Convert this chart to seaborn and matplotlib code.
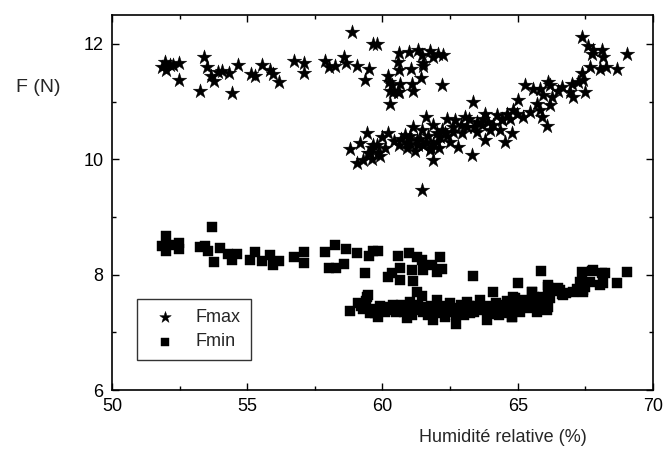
import matplotlib
matplotlib.use('Agg')
import matplotlib.pyplot as plt
from matplotlib.ticker import MultipleLocator
import pandas as pd
import seaborn as sns

# -- Data (humidity %, force N) ------------------------------
fmax_x = [51.84, 51.96, 52.00, 52.14, 52.27, 52.49, 52.49, 53.25, 53.41, 53.50,
          53.66, 53.77, 53.93, 54.05, 54.33, 54.42, 54.65, 55.14, 55.29, 55.53,
          55.84, 55.94, 56.17, 56.73, 57.10, 57.11, 57.87, 58.03, 58.24, 58.58,
          58.65, 58.86, 59.07, 59.35, 59.49, 59.66, 59.81,
          60.21, 60.25, 60.28, 60.40, 60.58, 60.65, 60.34, 60.28, 60.62, 60.99,
          61.30, 61.45, 61.76, 61.88, 62.06, 62.23, 60.58, 60.62, 61.05, 61.49,
          61.51, 61.08, 61.42, 61.12, 62.19, 60.62, 63.36,
          61.60, 62.40, 62.68, 63.05, 63.79, 64.22, 64.59, 59.42, 59.17, 58.80,
          59.05, 59.29, 59.54, 59.84, 59.97, 60.21, 60.43, 60.83, 61.14, 61.02,
          61.45, 61.51, 61.88, 61.88, 61.76, 62.13, 62.31, 62.50, 62.80, 62.93,
          63.11, 63.30, 63.48, 63.79, 63.97, 64.34, 64.53, 61.45, 59.66, 60.89,
          61.26, 61.88, 62.00, 62.62, 63.48, 63.67,
          60.60, 60.70, 60.90, 61.00, 61.20, 61.30, 61.40, 61.60, 61.70, 61.80,
          62.00, 62.10, 62.20, 62.40, 62.60, 62.90, 63.20, 63.40, 63.70, 63.90,
          64.10, 64.40, 64.70, 59.60, 59.80, 59.90, 60.10, 59.45, 59.60,
          67.36, 67.61, 67.79, 67.73, 68.10, 68.16, 69.03, 67.67, 68.04, 68.26,
          68.66, 67.36, 67.42, 67.24, 66.99, 66.93, 67.05, 67.49, 66.62, 66.50,
          66.19, 66.13, 65.82, 65.55, 65.27, 65.94, 66.26, 66.19, 65.02, 65.70,
          65.82, 65.45, 65.89, 66.07, 64.78, 64.96, 65.21, 64.83, 64.41]
fmax_y = [11.60, 11.69, 11.54, 11.63, 11.64, 11.67, 11.38, 11.18, 11.78, 11.60,
          11.45, 11.36, 11.51, 11.53, 11.50, 11.15, 11.64, 11.48, 11.44, 11.64,
          11.54, 11.47, 11.34, 11.70, 11.67, 11.49, 11.70, 11.59, 11.62, 11.78,
          11.67, 12.20, 11.62, 11.37, 11.57, 12.00, 11.99,
          11.45, 11.34, 11.19, 11.17, 11.17, 11.31, 11.28, 10.96, 11.84, 11.85,
          11.89, 11.80, 11.88, 11.77, 11.82, 11.80, 11.68, 11.54, 11.57, 11.66,
          11.61, 11.31, 11.40, 11.18, 11.28, 11.17, 11.00,
          10.73, 10.69, 10.68, 10.74, 10.79, 10.76, 10.79, 10.46, 10.28, 10.17,
          9.93, 9.98, 10.10, 10.10, 10.39, 10.45, 10.32, 10.42, 10.56, 10.27,
          10.50, 10.24, 10.59, 9.98, 10.16, 10.39, 10.45, 10.30, 10.21, 10.45,
          10.56, 10.07, 10.65, 10.33, 10.50, 10.50, 10.30, 9.46, 10.24, 10.30,
          10.33, 10.27, 10.45, 10.47, 10.47, 10.59,
          10.25, 10.35, 10.20, 10.40, 10.15, 10.25, 10.35, 10.30, 10.40, 10.20,
          10.30, 10.20, 10.50, 10.40, 10.55, 10.60, 10.70, 10.55, 10.70, 10.65,
          10.60, 10.70, 10.70, 10.20, 10.25, 10.05, 10.20, 10.10, 10.00,
          12.12, 11.96, 11.89, 11.83, 11.89, 11.77, 11.83, 11.60, 11.57, 11.60,
          11.57, 11.49, 11.37, 11.34, 11.31, 11.17, 11.08, 11.17, 11.25, 11.19,
          11.28, 11.34, 11.22, 11.22, 11.29, 11.11, 11.08, 10.94, 11.02, 10.96,
          10.85, 10.82, 10.73, 10.57, 10.45, 10.79, 10.73, 10.85, 10.68]

fmin_x = [51.84, 52.00, 52.00, 52.17, 52.49, 52.49, 53.25, 53.44, 53.54, 53.68,
          53.78, 53.99, 54.30, 54.42, 54.61, 55.10, 55.29, 55.53, 55.84, 55.96,
          56.19, 56.73, 57.10, 57.11, 57.87, 58.03, 58.24, 58.28, 58.58, 58.65,
          59.07, 59.35, 59.49, 59.66, 59.85,
          60.22, 60.34, 60.65, 60.59, 60.99, 61.26, 61.45, 61.08, 61.12, 60.65,
          61.51, 61.82, 62.13, 62.19, 62.00, 63.36, 65.86,
          58.80, 59.11, 59.48, 59.54, 59.85, 60.03, 60.40, 60.89, 61.02, 61.26,
          61.45, 61.26, 61.63, 61.88, 62.00, 62.31, 62.50, 62.72, 62.87, 63.11,
          63.23, 63.60, 63.85, 64.10, 64.22, 64.47, 64.78, 64.90, 65.02, 65.21,
          65.51, 65.58, 65.70, 66.13, 66.07, 66.56, 66.69, 67.05, 67.36, 67.36,
          67.73, 67.67, 68.10, 68.16, 68.68, 69.03, 67.42, 65.95, 64.71, 63.36,
          62.99, 62.13, 60.65, 59.29, 59.72, 59.41, 59.72,
          59.20, 59.40, 59.60, 59.90, 60.10, 60.30, 60.50, 60.70, 60.80, 61.00,
          61.10, 61.30, 61.50, 61.70, 61.80, 62.00, 62.20, 62.40, 62.60, 62.70,
          62.90, 63.00, 63.20, 63.40, 63.50, 63.70, 63.90, 64.00, 64.20, 64.30,
          64.50, 64.60, 64.80, 65.00, 65.10, 65.30, 65.40, 65.60, 65.80, 66.00,
          66.20, 66.30, 66.80, 67.20, 67.50,
          68.23, 68.04, 67.79, 67.30, 67.42, 66.62, 66.50, 66.13, 66.13, 65.82,
          65.52, 65.21, 64.84, 64.78, 64.47]
fmin_y = [8.50, 8.67, 8.41, 8.51, 8.54, 8.45, 8.47, 8.49, 8.41, 8.83,
          8.22, 8.46, 8.36, 8.26, 8.36, 8.25, 8.40, 8.23, 8.34, 8.16,
          8.24, 8.31, 8.40, 8.20, 8.40, 8.12, 8.52, 8.12, 8.19, 8.44,
          8.37, 8.02, 8.32, 8.41, 8.41,
          7.96, 8.02, 8.11, 8.32, 8.37, 8.31, 8.26, 8.08, 7.89, 7.90,
          8.08, 8.16, 8.30, 8.09, 8.05, 7.97, 8.07,
          7.37, 7.50, 7.65, 7.33, 7.27, 7.44, 7.47, 7.24, 7.53, 7.70,
          7.63, 7.39, 7.44, 7.21, 7.56, 7.27, 7.50, 7.14, 7.36, 7.53,
          7.33, 7.56, 7.22, 7.69, 7.39, 7.47, 7.27, 7.59, 7.85, 7.44,
          7.69, 7.53, 7.36, 7.79, 7.39, 7.73, 7.65, 7.70, 7.85, 8.05,
          8.07, 7.88, 8.02, 7.85, 7.85, 8.05, 7.70, 7.62, 7.44, 7.39,
          7.41, 7.33, 7.41, 7.41, 7.39, 7.62, 7.33,
          7.45, 7.55, 7.40, 7.45, 7.35, 7.38, 7.35, 7.48, 7.35, 7.42,
          7.30, 7.48, 7.35, 7.30, 7.45, 7.38, 7.45, 7.35, 7.42, 7.30,
          7.48, 7.30, 7.45, 7.35, 7.45, 7.38, 7.45, 7.32, 7.50, 7.30,
          7.38, 7.55, 7.42, 7.50, 7.35, 7.55, 7.42, 7.62, 7.50, 7.55,
          7.60, 7.72, 7.68, 7.75, 7.78,
          8.02, 7.82, 8.08, 7.88, 7.73, 7.67, 7.76, 7.82, 7.44, 7.50,
          7.70, 7.56, 7.62, 7.27, 7.33]

X_TICKS = [50, 55, 60, 65, 70]
Y_TICKS = [6, 8, 10, 12]

df_max = pd.DataFrame({'RH': fmax_x, 'F': fmax_y})
df_min = pd.DataFrame({'RH': fmin_x, 'F': fmin_y})

# -- Style ---------------------------------------------------
sns.set_style('ticks')
plt.rcParams['font.family'] = ['Liberation Sans', 'DejaVu Sans']
plt.rcParams['font.size'] = 12

fig = plt.figure(figsize=(6.68, 4.61), dpi=100)
ax = fig.add_axes([0.1677, 0.154, 0.8098, 0.8135])

sns.scatterplot(data=df_max, x='RH', y='F', marker='*', s=120,
                color='black', edgecolor='black', linewidth=0.3,
                label='Fmax', ax=ax)
sns.scatterplot(data=df_min, x='RH', y='F', marker='s', s=42,
                color='black', edgecolor='black', linewidth=0.3,
                label='Fmin', ax=ax)

ax.set_xlim(50, 70)
ax.set_ylim(6, 12.5)
ax.set_xticks(X_TICKS)
ax.set_yticks(Y_TICKS)
ax.xaxis.set_minor_locator(MultipleLocator(2.5))
ax.yaxis.set_minor_locator(MultipleLocator(1))
ax.tick_params(which='both', direction='in', top=True, right=True,
               labelsize=13, width=1, colors='black')
ax.tick_params(which='major', length=5, pad=6)
ax.tick_params(which='minor', length=3)
for sp in ax.spines.values():
    sp.set_visible(True)
    sp.set_linewidth(1.2)
    sp.set_color('black')
ax.set_xlabel('')
ax.set_ylabel('')

fig.text(503 / 668, 1 - 437 / 461, 'Humidité relative (%)',
         ha='center', va='center', fontsize=13)
fig.text(38 / 668, 1 - 88 / 461, 'F (N)', ha='center', va='center', fontsize=14)

leg = ax.legend(loc='lower left', bbox_to_anchor=(0.03, 0.055),
                frameon=True, fancybox=False, fontsize=13,
                handletextpad=0.7, borderpad=0.55, labelspacing=0.4,
                markerscale=0.8)
leg.get_frame().set_edgecolor('black')
leg.get_frame().set_linewidth(1)

fig.savefig('out.png', dpi=100)
